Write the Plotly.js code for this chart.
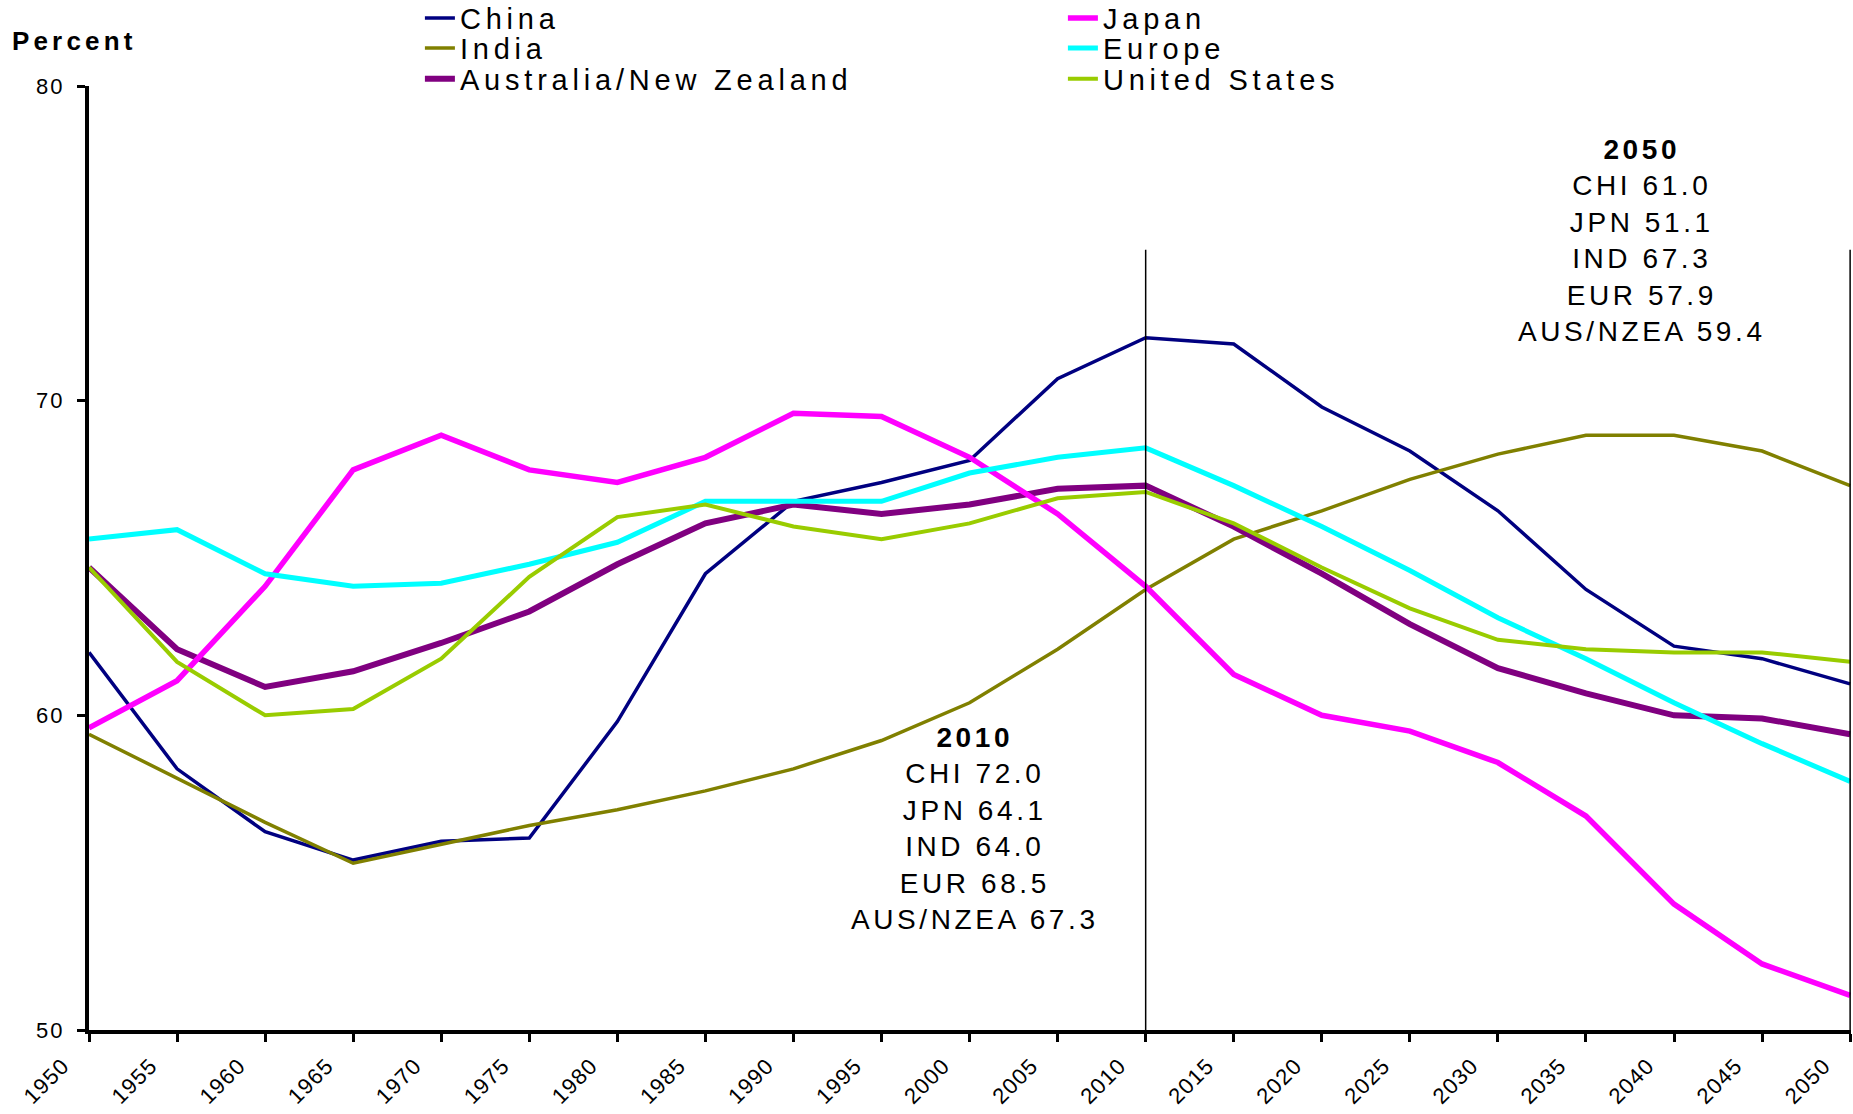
<!DOCTYPE html>
<html>
<head>
<meta charset="utf-8">
<script src="https://cdn.plot.ly/plotly-3.0.1.min.js"></script>
<style>
  html, body { margin: 0; padding: 0; background: #ffffff; }
  #chart { width: 1853px; height: 1114px; }
  svg text.legendtext,
  svg g.legend text, svg g.legend2 text, svg g.legend3 text { letter-spacing: 4.8px !important; }
  svg text.annotation-text { letter-spacing: 3.6px !important; }
  svg g.annotation[data-index="0"] text.annotation-text { letter-spacing: 4.2px !important; }
  svg g.xtick text { letter-spacing: 1.2px !important; }
  svg g.ytick text { letter-spacing: 2px !important; }
</style>
</head>
<body>
<div id="chart"></div>
<script>
// ---- Data (percent of population) ----
const years = [1950, 1955, 1960, 1965, 1970, 1975, 1980, 1985, 1990, 1995, 2000,
               2005, 2010, 2015, 2020, 2025, 2030, 2035, 2040, 2045, 2050];
const tickLabels = ["1950", "1955", "1960", "1965", "1970", "1975", "1980", "1985", "1990", "1995", "2000",
                    "2005", "2010", "2015", "2020", "2025", "2030", "2035", "2040", "2045", "2050"];

const china  = [62.0, 58.3, 56.3, 55.4, 56.0, 56.1, 59.8, 64.5, 66.8, 67.4, 68.1,
                70.7, 72.0, 71.8, 69.8, 68.4, 66.5, 64.0, 62.2, 61.8, 61.0];
const japan  = [59.6, 61.1, 64.1, 67.8, 68.9, 67.8, 67.4, 68.2, 69.6, 69.5, 68.2,
                66.4, 64.1, 61.3, 60.0, 59.5, 58.5, 56.8, 54.0, 52.1, 51.1];
const india  = [59.4, 58.0, 56.6, 55.3, 55.9, 56.5, 57.0, 57.6, 58.3, 59.2, 60.4,
                62.1, 64.0, 65.6, 66.5, 67.5, 68.3, 68.9, 68.9, 68.4, 67.3];
const europe = [65.6, 65.9, 64.5, 64.1, 64.2, 64.8, 65.5, 66.8, 66.8, 66.8, 67.7,
                68.2, 68.5, 67.3, 66.0, 64.6, 63.1, 61.8, 60.4, 59.1, 57.9];
const ausNz  = [64.7, 62.1, 60.9, 61.4, 62.3, 63.3, 64.8, 66.1, 66.7, 66.4, 66.7,
                67.2, 67.3, 66.0, 64.5, 62.9, 61.5, 60.7, 60.0, 59.9, 59.4];
const usa    = [64.7, 61.7, 60.0, 60.2, 61.8, 64.4, 66.3, 66.7, 66.0, 65.6, 66.1,
                66.9, 67.1, 66.1, 64.7, 63.4, 62.4, 62.1, 62.0, 62.0, 61.7];

const seriesNames = ["China", "India", "Australia/New Zealand", "Japan", "Europe", "United States"];
const seriesCodes = ["CHI", "JPN", "IND", "EUR", "AUS/NZEA"];
const yTicks = [50, 60, 70, 80];

// Reference years with summary boxes
const markerYears = [2010, 2050];
const markerLineTop = 74.8;

// ---- Build chart ----
const FONT = '"Liberation Sans", Arial, sans-serif';

function mk(name, y, color, width, legendId) {
  return {
    type: "scatter", mode: "lines", name: name, x: years, y: y,
    line: { color: color, width: width },
    legend: legendId, hoverinfo: "skip"
  };
}

const traces = [
  mk(seriesNames[0], china,  "#000080", 3.5, "legend"),
  mk(seriesNames[1], india,  "#808000", 3.5, "legend2"),
  mk(seriesNames[2], ausNz,  "#800080", 6,   "legend3"),
  mk(seriesNames[3], japan,  "#FF00FF", 5.5, "legend"),
  mk(seriesNames[4], europe, "#00FFFF", 5,   "legend2"),
  mk(seriesNames[5], usa,    "#99CC00", 4,   "legend3")
];

function summary(year) {
  const i = years.indexOf(year);
  const vals = [china[i], japan[i], india[i], europe[i], ausNz[i]];
  const lines = ["<b>" + year + "</b>"];
  seriesCodes.forEach((c, k) => lines.push(c + " " + vals[k].toFixed(1)));
  return lines.join("<br>");
}

const legendBase = {
  orientation: "h", xanchor: "left", yanchor: "middle",
  x: 0.1878, entrywidth: 598, entrywidthmode: "pixels",
  font: { family: FONT, size: 29, color: "#000000" },
  bgcolor: "rgba(0,0,0,0)", borderwidth: 0
};

const layout = {
  width: 1853, height: 1114, autosize: false,
  margin: { l: 89, r: 2, t: 86, b: 84, autoexpand: false },
  paper_bgcolor: "#ffffff", plot_bgcolor: "#ffffff",
  font: { family: FONT, color: "#000000" },
  showlegend: true,
  legend:  Object.assign({}, legendBase, { y: 1.0720 }),
  legend2: Object.assign({}, legendBase, { y: 1.0400 }),
  legend3: Object.assign({}, legendBase, { y: 1.0075 }),
  xaxis: {
    range: [1950, 2050.05], tickmode: "array", tickvals: years, ticktext: tickLabels,
    tickangle: -45, tickfont: { family: FONT, size: 22, color: "#000000" },
    ticklabeloverflow: "allow", ticklabelstandoff: 2, ticklabelshift: -26,
    showline: true, linecolor: "#000000", linewidth: 4,
    ticks: "outside", ticklen: 8, tickwidth: 3, tickcolor: "#000000",
    showgrid: false, zeroline: false, fixedrange: true
  },
  yaxis: {
    range: [50, 80], tickmode: "array", tickvals: yTicks,
    tickfont: { family: FONT, size: 22, color: "#000000" },
    showline: true, linecolor: "#000000", linewidth: 4,
    ticks: "outside", ticklen: 8, tickwidth: 3, tickcolor: "#000000",
    ticklabelstandoff: 8, ticklabeloverflow: "allow",
    showgrid: false, zeroline: false, fixedrange: true
  },
  shapes: markerYears.map(yr => ({
    type: "line", xref: "x", yref: "y", x0: yr, x1: yr, y0: 50, y1: markerLineTop,
    line: { color: "#000000", width: 1.5 }, layer: "above"
  })),
  annotations: [
    { text: "<b>Percent</b>", xref: "paper", yref: "paper", x: -0.0437, y: 1.0477,
      xanchor: "left", yanchor: "middle", showarrow: false,
      font: { family: FONT, size: 26, color: "#000000" } },
    { text: summary(markerYears[0]), xref: "x", yref: "y", x: 2000.3, y: 56.4,
      xanchor: "center", yanchor: "middle", align: "center", showarrow: false,
      font: { family: FONT, size: 28, color: "#000000" } },
    { text: summary(markerYears[1]), xref: "x", yref: "y", x: 2038.2, y: 75.1,
      xanchor: "center", yanchor: "middle", align: "center", showarrow: false,
      font: { family: FONT, size: 28, color: "#000000" } }
  ]
};

Plotly.newPlot("chart", traces, layout, { displayModeBar: false, staticPlot: true }).then(gd => {
  // make sure every legend label gets the same letter spacing
  gd.querySelectorAll("text.legendtext").forEach(t => { t.style.letterSpacing = "4.8px"; });
});
</script>
</body>
</html>
